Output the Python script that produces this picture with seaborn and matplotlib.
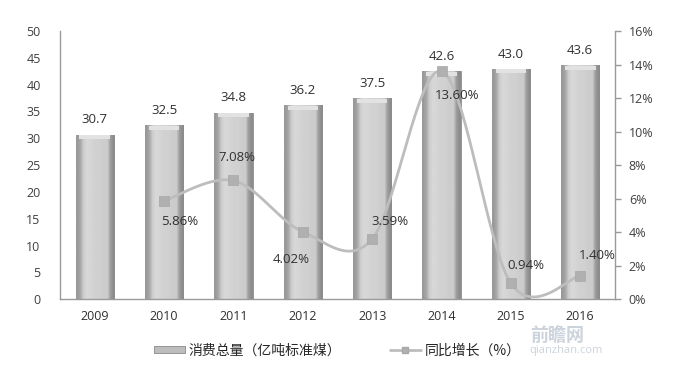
import numpy as np
import pandas as pd
import matplotlib
matplotlib.use("Agg")
import matplotlib.pyplot as plt
import seaborn as sns
from matplotlib.patches import Patch
from matplotlib.lines import Line2D

years = ["2009", "2010", "2011", "2012", "2013", "2014", "2015", "2016"]
consumption = [30.7, 32.5, 34.8, 36.2, 37.5, 42.6, 43.0, 43.6]
growth_years = ["2010", "2011", "2012", "2013", "2014", "2015", "2016"]
growth = [5.86, 7.08, 4.02, 3.59, 13.60, 0.94, 1.40]
growth_labels = ["5.86%", "7.08%", "4.02%", "3.59%", "13.60%", "0.94%", "1.40%"]
left_ticks = [0, 5, 10, 15, 20, 25, 30, 35, 40, 45, 50]
right_ticks = [0, 2, 4, 6, 8, 10, 12, 14, 16]
legend_bar = "消费总量（亿吨标准煤）"
legend_line = "同比增长（%）"

sns.set_theme(style="white")
plt.rcParams["font.family"] = ["Open Sans", "Noto Sans CJK SC", "DejaVu Sans"]

fig = plt.figure(figsize=(6.75, 3.83), dpi=100)
ax = fig.add_axes([0.089, 0.219, 0.822, 0.70])

df = pd.DataFrame({"year": years, "value": consumption})
sns.barplot(data=df, x="year", y="value", color="#cccccc", width=0.55,
            edgecolor="#8a8a8a", linewidth=0.6, ax=ax, zorder=2)

# gradient fill on bars (bevelled look)
grad = np.array([0.60, 0.66, 0.80, 0.84, 0.84, 0.83, 0.82, 0.82, 0.81, 0.80, 0.80, 0.62, 0.55])
img = np.tile(grad, (2, 1))
for p in ax.patches:
    x0, y0 = p.get_x(), p.get_y()
    w, h = p.get_width(), p.get_height()
    im = ax.imshow(img, cmap="gray", vmin=0, vmax=1, aspect="auto",
                   extent=[x0, x0 + w, y0, y0 + h], zorder=2.5, interpolation="bilinear")
    im.set_clip_path(p)
    ax.fill_between([x0 + w * 0.1, x0 + w * 0.9], y0 + h - 0.9, y0 + h - 0.15,
                    color="#e2e2e2", zorder=2.6, linewidth=0)

ax.set_xlim(-0.5, len(years) - 0.5)
ax.set_ylim(0, 50)
ax.set_yticks(left_ticks)
ax.set_xlabel("")
ax.set_ylabel("")
ax.tick_params(axis="y", length=0, labelsize=9, labelcolor="#404040", pad=14)
ax.tick_params(axis="x", length=0, labelsize=9, labelcolor="#303030", pad=8)
for s in ["top", "right"]:
    ax.spines[s].set_visible(False)
for s in ["left", "bottom"]:
    ax.spines[s].set_color("#9a9a9a")
    ax.spines[s].set_linewidth(1.0)

for i, v in enumerate(consumption):
    ax.text(i, v + 1.5, f"{v:.1f}", ha="center", va="bottom", fontsize=9.5,
            color="#303030", zorder=5)

# growth line on secondary axis (smoothed like Excel)
ax2 = ax.twinx()
xs = [years.index(y) for y in growth_years]
pts = list(zip(xs, growth))
cx, cy = [], []
for k in range(len(pts) - 1):
    p0 = pts[k - 1] if k > 0 else pts[k]
    p1 = pts[k]
    p2 = pts[k + 1]
    p3 = pts[k + 2] if k + 2 < len(pts) else pts[k + 1]
    c1 = (p1[0] + (p2[0] - p0[0]) / 6, p1[1] + (p2[1] - p0[1]) / 6)
    c2 = (p2[0] - (p3[0] - p1[0]) / 6, p2[1] - (p3[1] - p1[1]) / 6)
    t = np.linspace(0, 1, 40)
    bx = (1 - t) ** 3 * p1[0] + 3 * (1 - t) ** 2 * t * c1[0] + 3 * (1 - t) * t ** 2 * c2[0] + t ** 3 * p2[0]
    by = (1 - t) ** 3 * p1[1] + 3 * (1 - t) ** 2 * t * c1[1] + 3 * (1 - t) * t ** 2 * c2[1] + t ** 3 * p2[1]
    cx.extend(bx)
    cy.extend(by)
curve = pd.DataFrame({"x": cx, "y": cy})
sns.lineplot(data=curve, x="x", y="y", sort=False, color="#bdbdbd", linewidth=2.0,
             ax=ax2, zorder=3)
gdf = pd.DataFrame({"x": xs, "y": growth})
sns.scatterplot(data=gdf, x="x", y="y", marker="s", s=45, color="#b0b0b0",
                edgecolor="#a8a8a8", linewidth=0.5, ax=ax2, zorder=4)

ax2.set_ylim(0, 16)
ax2.set_yticks(right_ticks)
ax2.set_yticklabels([f"{t}%" for t in right_ticks])
ax2.set_xlim(-0.5, len(years) - 0.5)
ax2.set_xlabel("")
ax2.set_ylabel("")
ax2.tick_params(axis="y", length=4, width=1, color="#9a9a9a", labelsize=9,
                labelcolor="#404040", pad=6, right=True)
for s in ["top", "left", "bottom"]:
    ax2.spines[s].set_visible(False)
ax2.spines["right"].set_color("#9a9a9a")
ax2.spines["right"].set_linewidth(1.0)

offsets = [(0.23, -1.2), (0.05, 1.37), (-0.17, -1.67), (0.25, 1.07),
           (0.23, -1.43), (0.22, 1.07), (0.25, 1.2)]
for (x, y, lab, (dx, dy)) in zip(xs, growth, growth_labels, offsets):
    ax2.text(x + dx, y + dy, lab, ha="center", va="center", fontsize=9.5,
             color="#303030", zorder=6)

handles = [Patch(facecolor="#bdbdbd", edgecolor="#8a8a8a", linewidth=0.6),
           Line2D([0], [0], color="#bdbdbd", linewidth=2, marker="s",
                  markersize=5, markerfacecolor="#b0b0b0", markeredgecolor="#a8a8a8")]
fig.legend(handles, [legend_bar, legend_line], loc="center", bbox_to_anchor=(0.5, 0.085),
           ncol=2, frameon=False, handlelength=2.2, handleheight=0.4,
           columnspacing=3.5, handletextpad=0.3,
           prop={"family": ["Noto Sans CJK SC", "DejaVu Sans"], "size": 10})

# watermark
fig.text(0.785, 0.148, "前瞻网", fontsize=13, color="#c4ccd6", alpha=0.85, va="top",
         family=["Noto Sans CJK SC", "DejaVu Sans"], fontweight="bold")
fig.text(0.785, 0.098, "qianzhan.com", fontsize=8, color="#c4ccd6", alpha=0.85, va="top")

fig.savefig("out.png", dpi=100)
